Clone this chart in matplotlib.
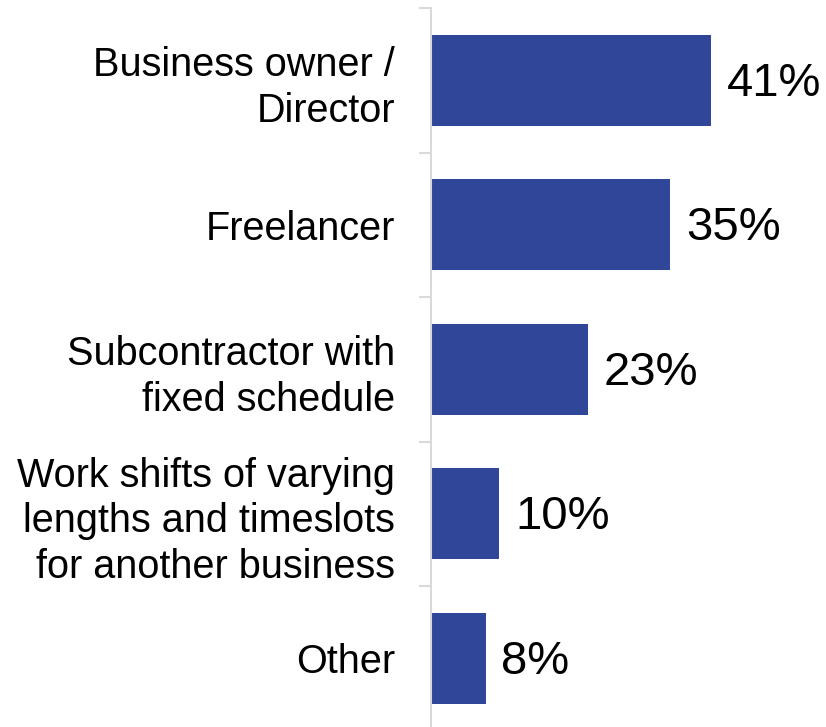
import matplotlib.pyplot as plt
import numpy as np

plt.rcParams['font.family'] = ['Liberation Sans', 'DejaVu Sans']

categories = ['Business owner /\nDirector', 'Freelancer',
              'Subcontractor with\nfixed schedule',
              'Work shifts of varying\nlengths and timeslots\nfor another business',
              'Other']
values = [41, 35, 23, 10, 8]

fig = plt.figure(figsize=(8.26, 7.27), dpi=100)
ax = fig.add_axes([431 / 826, -3.5 / 727, 395 / 826, 722.5 / 727])

y = np.arange(len(categories))
bars = ax.barh(y, values, height=0.63, color='#2F4699')

# value labels, nudged down a touch so the digits sit centred on the bar
for bar, v in zip(bars, values):
    ax.text(bar.get_width() + 2.3, bar.get_y() + bar.get_height() / 2 + 0.025,
            f'{v}%', va='center', ha='left', fontsize=34)

ax.set_xlim(0, 395 / 6.83)
ax.set_ylim(len(categories) - 0.5, -0.5)

ax.set_yticks(y)
ax.set_yticklabels(categories, fontsize=28.5, ha='right', linespacing=1.25)
ax.tick_params(axis='y', which='major', length=0, pad=26)
ax.set_yticks(np.arange(len(categories) + 1) - 0.5, minor=True)
ax.tick_params(axis='y', which='minor', length=9, width=1.5, color='#d9d9d9')
ax.set_xticks([])

for side in ['top', 'right', 'bottom']:
    ax.spines[side].set_visible(False)
ax.spines['left'].set_color('#d9d9d9')
ax.spines['left'].set_linewidth(1.5)

fig.savefig('out.png', dpi=100)
